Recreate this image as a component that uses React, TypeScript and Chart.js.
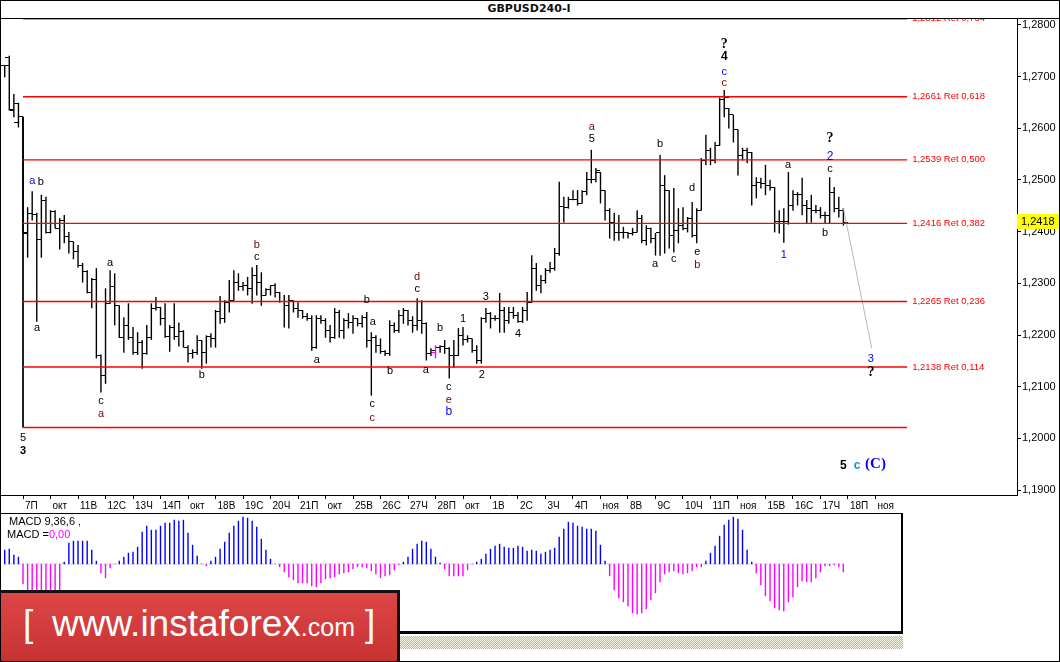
import React, { useEffect, useRef } from 'react';
import { Chart, registerables } from 'chart.js';
Chart.register(...registerables);

// ---------- DATA ----------
const opens = [1.2721,1.2738,1.2637,1.2612,1.2622,1.2397,1.2436,1.2434,1.2385,1.2461,1.2399,1.2440,1.2407,1.2422,1.2391,1.2381,1.2362,1.2335,1.2323,1.2283,1.2308,1.2160,1.2122,1.2261,1.2294,1.2257,1.2195,1.2219,1.2195,1.2166,1.2186,1.2164,1.2195,1.2252,1.2254,1.2232,1.2197,1.2215,1.2197,1.2207,1.2176,1.2164,1.2166,1.2190,1.2166,1.2197,1.2193,1.2246,1.2232,1.2263,1.2267,1.2302,1.2294,1.2296,1.2290,1.2316,1.2302,1.2277,1.2288,1.2296,1.2283,1.2265,1.2257,1.2267,1.2252,1.2248,1.2236,1.2232,1.2176,1.2232,1.2228,1.2209,1.2195,1.2244,1.2209,1.2228,1.2224,1.2232,1.2222,1.2234,1.2190,1.2195,1.2180,1.2168,1.2164,1.2219,1.2209,1.2238,1.2248,1.2228,1.2219,1.2228,1.2222,1.2164,1.2166,1.2176,1.2178,1.2174,1.2160,1.2160,1.2199,1.2191,1.2193,1.2170,1.2151,1.2232,1.2242,1.2232,1.2232,1.2248,1.2228,1.2244,1.2238,1.2226,1.2248,1.2263,1.2329,1.2296,1.2306,1.2325,1.2329,1.2358,1.2449,1.2447,1.2463,1.2463,1.2455,1.2478,1.2500,1.2500,1.2515,1.2480,1.2441,1.2418,1.2399,1.2399,1.2399,1.2397,1.2399,1.2426,1.2383,1.2407,1.2387,1.2399,1.2490,1.2480,1.2393,1.2403,1.2412,1.2407,1.2426,1.2393,1.2441,1.2538,1.2558,1.2538,1.2567,1.2655,1.2639,1.2626,1.2597,1.2548,1.2558,1.2554,1.2490,1.2496,1.2494,1.2490,1.2486,1.2420,1.2420,1.2420,1.2451,1.2471,1.2471,1.2451,1.2445,1.2441,1.2441,1.2432,1.2432,1.2476,1.2445,1.2441];
const highs = [1.2722,1.2740,1.2666,1.2649,1.2622,1.2447,1.2478,1.2436,1.2471,1.2467,1.2441,1.2441,1.2426,1.2432,1.2399,1.2381,1.2374,1.2339,1.2325,1.2310,1.2329,1.2162,1.2290,1.2325,1.2319,1.2257,1.2234,1.2261,1.2215,1.2205,1.2190,1.2219,1.2261,1.2273,1.2254,1.2261,1.2219,1.2261,1.2224,1.2209,1.2180,1.2172,1.2199,1.2190,1.2199,1.2203,1.2248,1.2275,1.2267,1.2306,1.2325,1.2319,1.2302,1.2312,1.2331,1.2335,1.2321,1.2290,1.2296,1.2300,1.2283,1.2277,1.2277,1.2267,1.2263,1.2248,1.2242,1.2238,1.2238,1.2238,1.2232,1.2219,1.2252,1.2248,1.2232,1.2242,1.2238,1.2232,1.2238,1.2244,1.2205,1.2199,1.2193,1.2170,1.2228,1.2224,1.2248,1.2252,1.2248,1.2236,1.2271,1.2267,1.2224,1.2174,1.2180,1.2180,1.2190,1.2176,1.2190,1.2213,1.2215,1.2199,1.2193,1.2180,1.2234,1.2252,1.2244,1.2238,1.2281,1.2254,1.2254,1.2254,1.2244,1.2254,1.2283,1.2354,1.2339,1.2316,1.2329,1.2341,1.2368,1.2496,1.2467,1.2467,1.2480,1.2480,1.2480,1.2515,1.2558,1.2523,1.2515,1.2480,1.2445,1.2436,1.2432,1.2409,1.2399,1.2407,1.2441,1.2432,1.2412,1.2407,1.2397,1.2548,1.2509,1.2480,1.2484,1.2445,1.2447,1.2428,1.2457,1.2445,1.2542,1.2587,1.2562,1.2573,1.2659,1.2674,1.2639,1.2626,1.2597,1.2562,1.2562,1.2554,1.2505,1.2504,1.2529,1.2500,1.2486,1.2441,1.2445,1.2515,1.2480,1.2476,1.2504,1.2461,1.2471,1.2451,1.2447,1.2438,1.2505,1.2486,1.2467,1.2445];
const lows = [1.2699,1.2635,1.2622,1.2602,1.2397,1.2350,1.2422,1.2226,1.2350,1.2397,1.2397,1.2407,1.2366,1.2378,1.2358,1.2347,1.2331,1.2302,1.2281,1.2252,1.2155,1.2089,1.2106,1.2261,1.2219,1.2195,1.2166,1.2191,1.2162,1.2162,1.2135,1.2162,1.2191,1.2248,1.2219,1.2195,1.2168,1.2191,1.2178,1.2176,1.2147,1.2155,1.2162,1.2135,1.2145,1.2176,1.2176,1.2222,1.2224,1.2244,1.2267,1.2286,1.2286,1.2277,1.2261,1.2277,1.2257,1.2277,1.2277,1.2273,1.2263,1.2215,1.2213,1.2244,1.2234,1.2232,1.2228,1.2170,1.2174,1.2222,1.2195,1.2186,1.2193,1.2195,1.2193,1.2213,1.2203,1.2217,1.2215,1.2176,1.2083,1.2166,1.2164,1.2160,1.2160,1.2205,1.2205,1.2222,1.2219,1.2205,1.2209,1.2203,1.2151,1.2160,1.2155,1.2166,1.2164,1.2116,1.2137,1.2160,1.2180,1.2186,1.2166,1.2145,1.2145,1.2224,1.2213,1.2228,1.2205,1.2205,1.2222,1.2232,1.2224,1.2224,1.2228,1.2263,1.2286,1.2281,1.2300,1.2321,1.2325,1.2354,1.2418,1.2445,1.2461,1.2451,1.2455,1.2471,1.2494,1.2496,1.2455,1.2422,1.2387,1.2383,1.2383,1.2387,1.2387,1.2393,1.2399,1.2378,1.2374,1.2378,1.2354,1.2354,1.2358,1.2368,1.2360,1.2378,1.2403,1.2399,1.2389,1.2378,1.2441,1.2529,1.2529,1.2533,1.2567,1.2622,1.2600,1.2573,1.2509,1.2538,1.2533,1.2451,1.2465,1.2484,1.2471,1.2480,1.2399,1.2397,1.2379,1.2414,1.2441,1.2451,1.2432,1.2416,1.2418,1.2436,1.2426,1.2416,1.2416,1.2438,1.2428,1.2412];
const closes = [1.2721,1.2635,1.2649,1.2622,1.2399,1.2436,1.2434,1.2385,1.2461,1.2399,1.2440,1.2407,1.2422,1.2391,1.2381,1.2362,1.2335,1.2323,1.2283,1.2308,1.2160,1.2122,1.2261,1.2294,1.2257,1.2195,1.2219,1.2195,1.2166,1.2186,1.2164,1.2195,1.2252,1.2254,1.2232,1.2197,1.2215,1.2197,1.2207,1.2176,1.2164,1.2166,1.2190,1.2166,1.2197,1.2193,1.2246,1.2232,1.2263,1.2267,1.2302,1.2294,1.2296,1.2290,1.2316,1.2302,1.2277,1.2288,1.2296,1.2283,1.2265,1.2257,1.2267,1.2252,1.2248,1.2236,1.2232,1.2176,1.2232,1.2228,1.2209,1.2195,1.2244,1.2209,1.2228,1.2224,1.2232,1.2222,1.2234,1.2190,1.2195,1.2180,1.2168,1.2164,1.2219,1.2209,1.2238,1.2248,1.2228,1.2219,1.2228,1.2222,1.2164,1.2170,1.2176,1.2178,1.2174,1.2160,1.2160,1.2199,1.2191,1.2193,1.2170,1.2151,1.2232,1.2242,1.2232,1.2232,1.2248,1.2228,1.2244,1.2238,1.2226,1.2248,1.2263,1.2329,1.2296,1.2306,1.2325,1.2329,1.2358,1.2449,1.2447,1.2463,1.2463,1.2455,1.2478,1.2500,1.2500,1.2519,1.2480,1.2441,1.2418,1.2399,1.2399,1.2399,1.2397,1.2399,1.2426,1.2383,1.2407,1.2387,1.2399,1.2490,1.2480,1.2393,1.2403,1.2412,1.2407,1.2426,1.2393,1.2441,1.2538,1.2558,1.2538,1.2567,1.2655,1.2659,1.2626,1.2597,1.2548,1.2558,1.2554,1.2490,1.2496,1.2494,1.2490,1.2486,1.2420,1.2420,1.2420,1.2451,1.2471,1.2471,1.2451,1.2445,1.2441,1.2441,1.2432,1.2432,1.2476,1.2445,1.2441,1.2418];
const highlightBars = [94];

const macd = [0.0014,0.0015,0.0009,0.0007,-0.0020,-0.0036,-0.0040,-0.0042,-0.0043,-0.0042,
-0.0040,-0.0036,-0.0029,0.0002,0.0021,0.0023,0.0023,0.0023,0.0023,0.0014,
0.0003,-0.0009,-0.0014,-0.0004,0.0000,0.0003,0.0007,0.0011,0.0012,0.0017,
0.0032,0.0038,0.0034,0.0034,0.0038,0.0041,0.0041,0.0044,0.0043,0.0044,
0.0031,0.0019,0.0008,0.0000,-0.0002,0.0003,0.0007,0.0015,0.0022,0.0031,
0.0038,0.0043,0.0047,0.0046,0.0043,0.0037,0.0025,0.0014,0.0005,0.0000,
-0.0003,-0.0008,-0.0013,-0.0016,-0.0019,-0.0019,-0.0019,-0.0022,-0.0023,-0.0019,
-0.0015,-0.0014,-0.0013,-0.0010,-0.0009,-0.0008,-0.0005,-0.0003,-0.0003,-0.0004,
-0.0007,-0.0010,-0.0014,-0.0012,-0.0011,-0.0006,-0.0001,0.0002,0.0007,0.0015,
0.0020,0.0023,0.0022,0.0015,0.0007,0.0001,-0.0005,-0.0012,-0.0012,-0.0012,
-0.0012,-0.0006,0.0000,0.0002,0.0005,0.0010,0.0015,0.0018,0.0020,0.0017,
0.0016,0.0016,0.0018,0.0017,0.0013,0.0014,0.0013,0.0010,0.0012,0.0014,
0.0016,0.0027,0.0035,0.0042,0.0041,0.0038,0.0037,0.0035,0.0035,0.0033,
0.0019,0.0003,-0.0012,-0.0026,-0.0034,-0.0038,-0.0042,-0.0049,-0.0050,-0.0049,
-0.0045,-0.0036,-0.0029,-0.0018,-0.0010,-0.0008,-0.0007,-0.0009,-0.0010,-0.0009,
-0.0007,-0.0003,-0.0003,0.0003,0.0011,0.0018,0.0028,0.0039,0.0044,0.0047,
0.0045,0.0034,0.0014,0.0002,-0.0009,-0.0021,-0.0032,-0.0037,-0.0044,-0.0046,
-0.0047,-0.0038,-0.0033,-0.0023,-0.0017,-0.0018,-0.0018,-0.0014,-0.0008,-0.0002,
-0.0002,-0.0001,-0.0003,-0.0008];

const dayTickBars = [4,10,16,22,28,34,40,46,52,58,64,70,76,82,88,94,100,106,112,118,124,130,136,142,148,154,160,166,172,178,184,190];
const dayLabels = ['7П','окт','11В','12С','13Ч','14П','окт','18В','19С','20Ч','21П','окт','25В','26С','27Ч','28П','окт','1В','2С','3Ч','4П','ноя','8В','9С','10Ч','11П','ноя','15В','16С','17Ч','18П','ноя'];
const priceTicks = [1.19,1.20,1.21,1.22,1.23,1.24,1.25,1.26,1.27,1.28];

const fiboLevels = [1.2812,1.2661,1.2539,1.2416,1.2265,1.2138,1.2021];
const fiboLabels = ['1,2812 Ret 0,764','1,2661 Ret 0,618','1,2539 Ret 0,500','1,2416 Ret 0,382','1,2265 Ret 0,236','1,2138 Ret 0,114',''];
const fiboStartBar = 4;
const fiboEndBar = 196.9;
const fiboLabelBar = 198;
const fiboAnchor = [{ x: 4, y: 1.2622 }, { x: 4, y: 1.2021 }];
const projection = [{ x: 183, y: 1.2445 }, { x: 189.2, y: 1.2174 }];
const lastPrice = 1.2418;

const BLACK = '#000000', BLUE = '#0000ff', DRED = '#800000', CBLUE = '#1a8fd0';
const SERIF = '"Liberation Serif", serif';
const waveLabels = [
  { x: 6, y: 1.2498, t: 'a', c: BLUE },
  { x: 7.9, y: 1.2496, t: 'b', c: BLACK },
  { x: 7.05, y: 1.2214, t: 'a', c: BLACK },
  { x: 23, y: 1.2339, t: 'a', c: BLACK },
  { x: 21, y: 1.2072, t: 'c', c: BLACK },
  { x: 21, y: 1.2047, t: 'a', c: DRED },
  { x: 43, y: 1.2123, t: 'b', c: BLACK },
  { x: 55, y: 1.2374, t: 'b', c: DRED },
  { x: 55, y: 1.2351, t: 'c', c: BLACK },
  { x: 68.1, y: 1.2152, t: 'a', c: BLACK },
  { x: 79, y: 1.2268, t: 'b', c: BLACK },
  { x: 80.3, y: 1.2225, t: 'a', c: BLACK },
  { x: 80.2, y: 1.2067, t: 'c', c: BLACK },
  { x: 80.2, y: 1.2039, t: 'c', c: DRED },
  { x: 84.1, y: 1.2130, t: 'b', c: BLACK },
  { x: 90, y: 1.2312, t: 'd', c: DRED },
  { x: 90, y: 1.2289, t: 'c', c: BLACK },
  { x: 91.9, y: 1.2132, t: 'a', c: BLACK },
  { x: 95, y: 1.2214, t: 'b', c: BLACK },
  { x: 96.9, y: 1.2099, t: 'c', c: BLACK },
  { x: 96.9, y: 1.2074, t: 'e', c: DRED },
  { x: 96.9, y: 1.2051, t: 'b', c: BLUE, s: 12 },
  { x: 100, y: 1.2231, t: '1', c: BLACK },
  { x: 105, y: 1.2274, t: '3', c: BLACK },
  { x: 104.1, y: 1.2123, t: '2', c: BLACK },
  { x: 112, y: 1.2202, t: '4', c: BLACK },
  { x: 128.1, y: 1.2603, t: 'a', c: DRED },
  { x: 128.1, y: 1.2579, t: '5', c: BLACK },
  { x: 143, y: 1.2570, t: 'b', c: BLACK },
  { x: 150, y: 1.2485, t: 'd', c: BLACK },
  { x: 141.9, y: 1.2337, t: 'a', c: BLACK },
  { x: 146, y: 1.2347, t: 'c', c: BLACK },
  { x: 151.1, y: 1.2361, t: 'e', c: BLACK },
  { x: 151.1, y: 1.2336, t: 'b', c: DRED },
  { x: 157, y: 1.2763, t: '?', c: BLACK, b: true, s: 14, f: SERIF },
  { x: 157, y: 1.2738, t: '4', c: BLACK, b: true, s: 12 },
  { x: 157, y: 1.2709, t: 'c', c: BLUE },
  { x: 157, y: 1.2688, t: 'c', c: DRED },
  { x: 170.9, y: 1.2529, t: 'a', c: BLACK },
  { x: 170, y: 1.2355, t: '1', c: BLUE },
  { x: 180.1, y: 1.2581, t: '?', c: BLACK, b: true, s: 14, f: SERIF },
  { x: 180.1, y: 1.2545, t: '2', c: BLUE, s: 12 },
  { x: 180.1, y: 1.2521, t: 'c', c: BLACK },
  { x: 179, y: 1.2397, t: 'b', c: BLACK },
  { x: 189, y: 1.2154, t: '3', c: BLUE },
  { x: 189, y: 1.2127, t: '?', c: BLACK, b: true, s: 14, f: SERIF },
  { x: 4, y: 1.2001, t: '5', c: BLACK },
  { x: 4, y: 1.1976, t: '3', c: BLACK, b: true },
  { x: 183, y: 1.1948, t: '5', c: BLACK, b: true, s: 12 },
  { x: 186, y: 1.1948, t: 'c', c: CBLUE, b: true, s: 12 },
  { x: 190, y: 1.1950, t: '(C)', c: BLUE, b: true, s: 15, f: SERIF },
];

// ---------- helpers ----------
const SANS = '"Liberation Sans", Arial, sans-serif';
function makeTick(side: 'left' | 'right', color: string) {
  const c = document.createElement('canvas');
  c.width = 9; c.height = 1;
  const g = c.getContext('2d')!;
  g.fillStyle = color;
  if (side === 'left') g.fillRect(0, 0, 4, 1); else g.fillRect(5, 0, 4, 1);
  return c;
}
const fmt = (v: number) => v.toFixed(4).replace('.', ',');
const noPad = (s: any) => { s.paddingTop = 0; s.paddingBottom = 0; s.paddingLeft = 0; s.paddingRight = 0; };

const overlayPlugin = {
  id: 'overlay',
  afterDatasetsDraw(chart: any) {
    const { ctx, scales } = chart;
    const xs = scales.x, ys = scales.y;
    ctx.save();
    ctx.font = `9.5px ${SANS}`;
    ctx.fillStyle = '#ff0000';
    ctx.textAlign = 'left';
    ctx.textBaseline = 'middle';
    fiboLevels.forEach((lv, i) => {
      if (fiboLabels[i]) ctx.fillText(fiboLabels[i], xs.getPixelForValue(fiboLabelBar), ys.getPixelForValue(lv));
    });
    ctx.textAlign = 'center';
    waveLabels.forEach((w: any) => {
      ctx.font = `${w.b ? 'bold ' : ''}${w.s || 11}px ${w.f || SANS}`;
      ctx.fillStyle = w.c;
      ctx.fillText(w.t, xs.getPixelForValue(w.x), ys.getPixelForValue(w.y));
    });
    ctx.restore();
  },
  afterDraw(chart: any) {
    const { ctx, scales, chartArea } = chart;
    const py = scales.y.getPixelForValue(lastPrice);
    ctx.save();
    ctx.fillStyle = '#ffff00';
    ctx.fillRect(chartArea.right, Math.round(py) - 8, 42, 15);
    ctx.fillStyle = '#000';
    ctx.font = `11px ${SANS}`;
    ctx.textAlign = 'left';
    ctx.textBaseline = 'middle';
    ctx.fillText(fmt(lastPrice), chartArea.right + 4, Math.round(py) - 0.5);
    ctx.restore();
  },
};

export default function App() {
  const mainRef = useRef<HTMLCanvasElement>(null);
  const macdRef = useRef<HTMLCanvasElement>(null);

  useEffect(() => {
    document.body.style.margin = '0';
    const tl = makeTick('left', '#000'), tr = makeTick('right', '#000');
    const ml = makeTick('left', '#ff00ff'), mr = makeTick('right', '#ff00ff');
    const isHi = (i: number) => highlightBars.includes(i);

    const fiboSets = fiboLevels.map((lv) => ({
      type: 'line' as const,
      data: [{ x: fiboStartBar, y: lv }, { x: fiboEndBar, y: lv }],
      borderColor: '#ff0000', borderWidth: 1.4, pointRadius: 0, order: 0,
    }));

    const main = new Chart(mainRef.current!, {
      type: 'bar',
      data: {
        datasets: [
          ...fiboSets,
          { type: 'line', data: fiboAnchor, borderColor: '#000', borderWidth: 1, pointRadius: 0, order: 1 },
          { type: 'line', data: projection, borderColor: '#b8b8b8', borderWidth: 1, pointRadius: 0, order: 1 },
          {
            type: 'bar',
            data: lows.map((l, i) => ({ x: i, y: [l, highs[i]] })) as any,
            backgroundColor: (c: any) => (isHi(c.dataIndex) ? '#ff00ff' : '#000'),
            barThickness: 1, inflateAmount: 0.2, order: 2,
          },
          {
            type: 'scatter',
            data: opens.map((v, i) => ({ x: i, y: v })),
            pointStyle: (c: any) => (isHi(c.dataIndex) ? ml : tl), order: 2,
          },
          {
            type: 'scatter',
            data: closes.map((v, i) => ({ x: i, y: v })),
            pointStyle: (c: any) => (isHi(c.dataIndex) ? mr : tr), order: 2,
          },
        ] as any,
      },
      options: {
        animation: false, responsive: false, maintainAspectRatio: false, events: [],
        layout: { autoPadding: false, padding: { left: 1, right: 0, top: 0, bottom: 0 } },
        plugins: { legend: { display: false }, tooltip: { enabled: false } },
        scales: {
          x: {
            type: 'linear', min: -0.807, max: 220.88, offset: false, position: 'bottom',
            afterBuildTicks: (s: any) => { s.ticks = dayTickBars.map((v) => ({ value: v })); },
            afterFit: (s: any) => { s.height = 17; noPad(s); },
            grid: { display: true, offset: false, drawOnChartArea: false, drawTicks: true, tickLength: 4, color: '#000' },
            border: { display: true, color: '#000' },
            ticks: {
              autoSkip: false, maxRotation: 0, minRotation: 0, align: 'start', labelOffset: 2, padding: 1,
              color: '#000', font: { family: SANS, size: 10 },
              callback: (_v: any, i: number) => dayLabels[i],
            },
          },
          y: {
            type: 'linear', position: 'right', min: 1.18904, max: 1.28135,
            afterBuildTicks: (s: any) => { s.ticks = priceTicks.map((v) => ({ value: v })); },
            afterFit: (s: any) => { s.width = 42; noPad(s); },
            grid: { display: true, drawOnChartArea: false, drawTicks: true, tickLength: 4, color: '#000' },
            border: { display: true, color: '#000' },
            ticks: { padding: 1, color: '#000', font: { family: SANS, size: 11 }, callback: (v: any) => fmt(Number(v)) },
          },
        },
      } as any,
      plugins: [overlayPlugin],
    });

    const macdChart = new Chart(macdRef.current!, {
      type: 'bar',
      data: {
        datasets: [
          {
            type: 'bar',
            data: macd.map((v, i) => ({ x: i, y: v })),
            backgroundColor: (c: any) => (c.raw && c.raw.y < 0 ? '#ff00ff' : '#0000ff'),
            barThickness: 1, inflateAmount: 0.2, order: 1,
          },
          {
            type: 'line',
            data: [{ x: 0, y: 0 }, { x: macd.length - 1, y: 0 }],
            borderColor: '#a0a0a0', borderWidth: 1, borderDash: [1, 2], pointRadius: 0, order: 2,
          },
        ] as any,
      },
      options: {
        animation: false, responsive: false, maintainAspectRatio: false, events: [],
        layout: { autoPadding: false, padding: 0 },
        plugins: { legend: { display: false }, tooltip: { enabled: false } },
        scales: {
          x: { type: 'linear', display: false, min: -0.807, max: 195.8, offset: false },
          y: { type: 'linear', display: false, min: -0.0069, max: 0.0050 },
        },
      } as any,
    });

    return () => { main.destroy(); macdChart.destroy(); };
  }, []);

  const abs = (o: React.CSSProperties): React.CSSProperties => ({ position: 'absolute', ...o });

  return (
    <div style={abs({ left: 0, top: 0, width: 1060, height: 662, background: '#fff', overflow: 'hidden', fontFamily: SANS })}>
      {/* main chart */}
      <canvas ref={mainRef} width={1059} height={494} style={abs({ left: 0, top: 18, width: 1059, height: 494 })} />
      {/* title bar */}
      <div style={abs({ left: 0, top: 0, width: 1060, height: 18, borderBottom: '1px solid #000', boxSizing: 'content-box', background: '#fff' })} />
      <div style={abs({ left: 0, top: 2, width: 1060, textAlign: 'center', font: 'bold 11px "DejaVu Sans", sans-serif', color: '#111' })}>
        <span style={{ position: 'relative', left: -1 }}>GBPUSD240-I</span>
      </div>
      {/* MACD panel */}
      <div style={abs({ left: 0, top: 513, width: 903, height: 121, borderTop: '1px solid #000', borderRight: '2px solid #000', borderBottom: '3px solid #000', boxSizing: 'border-box' })} />
      <canvas ref={macdRef} width={901} height={119} style={abs({ left: 1, top: 514, width: 901, height: 119 })} />
      <div style={abs({ left: 9, top: 515, fontSize: 11, color: '#000', whiteSpace: 'pre' })}>MACD 9,36,6 <span style={{ color: '#0000ff' }}>,</span></div>
      <div style={abs({ left: 7, top: 528, fontSize: 11, color: '#000', whiteSpace: 'pre' })}>MACD =<span style={{ color: '#ff00ff' }}>0,00</span></div>
      {/* hatched strip */}
      <div style={abs({ left: 400, top: 636, width: 503, height: 13, background: 'repeating-conic-gradient(#bdb98e 0% 25%, #f6f4e6 0% 50%) 0 0 / 2px 2px' })} />
      {/* logo */}
      <div style={abs({ left: 0, top: 590, width: 400, height: 72, background: 'linear-gradient(#de4646, #c63232)', borderTop: '3px solid #111', borderRight: '3px solid #111', boxSizing: 'border-box' })} />
      <div style={abs({ left: 23, top: 605, fontSize: 37, lineHeight: '37px', color: '#fff', whiteSpace: 'pre' })}>[</div>
      <div style={abs({ left: 52, top: 605, fontSize: 37, lineHeight: '37px', color: '#fff', whiteSpace: 'pre' })}>
        www.instaforex<span style={{ fontSize: 25 }}>.com</span>
      </div>
      <div style={abs({ left: 365, top: 605, fontSize: 37, lineHeight: '37px', color: '#fff', whiteSpace: 'pre' })}>]</div>
      {/* outer border */}
      <div style={abs({ left: 0, top: 0, width: 1060, height: 662, border: '1px solid #000', boxSizing: 'border-box', pointerEvents: 'none' })} />
    </div>
  );
}
